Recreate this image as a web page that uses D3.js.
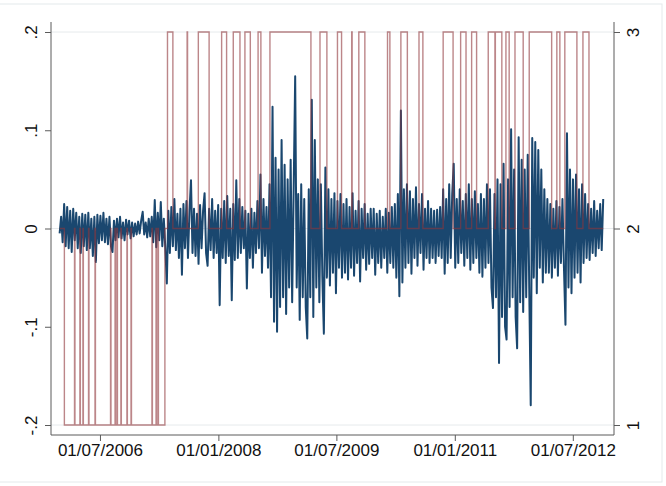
<!DOCTYPE html>
<html lang="en">
<head>
    <meta charset="UTF-8">
    <title>Returns and regime states</title>
    <script src="https://d3js.org/d3.v7.min.js" charset="utf-8"></script>
    <style>
        body {
            margin: 0;
            background: #fff;
        }
        text {
            font-family: "Liberation Sans", Arial, sans-serif;
        }
    </style>
</head>
<body>
    <script>
        var width = 666;
        var height = 486;

        // weekly returns, first week starting 26/12/2005
        var seriesStart = "2005-12-26";
        var seriesEnd = "2012-11-19";
        var returns = [
            -.005, .012, -.014, .025, -.018, .022, -.02, .018, -.024, .02, -.012,
            .016, -.02, .012, -.025, .015, -.018, .014, -.022, .016, -.02, .01, -.028, .012, -.034, .014,
            -.015, .013, -.012, .016, -.014, .01, -.016, .012,
            -.018, -.024, .008, -.012, .01, -.009, .012, -.01, .006, -.012, .009, -.006, .008, -.01, .006,
            -.008, .005, -.006, .007, -.005, .008, .017, -.006, .006, -.009, .01, -.008, .012,
            -.014, .029, -.019, .016, -.012, .027, -.018, .01,
            -.02, -.056, .018, -.025, .022, -.018, .03, -.022, .015, -.03,
            .02, -.047, .025, -.02, .028, -.03, .018, .049, -.025, .02,
            -.028, .015, -.036, .024, -.02, .018, .036, -.025, -.038, .02,
            -.022, .03, -.03, .018, -.025, .024, -.078, .02, -.03, .028,
            -.035, .033, -.028, .02, -.073, .025, -.032, .049, -.03, .03,
            -.025, .022, -.02,
            .018, -.061, .015, -.03, .02, -.04, .016, -.025, .028, -.02, .055, -.045, .03, -.028, .022,
            -.04, .045, -.07, .124, -.095, .072, -.105,
            .06, -.08, .09, -.07, .065, -.087, .05, -.06, .07, -.075, .04, .155,
            -.06, .035, -.093, .045, -.07, .03, -.08, -.112,
            .04, -.07, .131, -.09, .09, -.06, .05, -.075, .045, -.05, -.107,
            .062, -.05, .04, -.058, .03, -.045, .036, -.066, .028, -.04, .035, -.05, .025,
            -.045, .03, -.052, .022, -.04, .036, -.048, .018, -.035, .028, -.054, .02, -.03, .025, -.042, .015, -.036, .02,
            -.03, .02, -.047, .015, -.035, .018, -.04, .012, -.03, .02, -.045, .016, -.035, .022, -.04, .025,
            -.05, .035, -.069, .12, -.055, .04,
            -.04, .045, -.035, .038, -.046, .03, -.03, .042, -.038, .025, -.025, .035, -.042, .02, -.03, .028, -.035, .02, -.03, .018,
            -.035, .019, -.028, .022, -.03,
            .04, -.046, .03, -.035, .045, -.03, .035, .066, -.04, .03, -.035, .04, -.025, .028, -.038, .035,
            -.03, .045, -.042, .03, -.035, .038, -.03, .025, -.045, .035, -.049, .03, -.04, .045, -.035,
            .04, -.06, -.081, .035, -.07, .05,
            -.137, .045, -.09, .066, -.1, -.113, .05, -.08, .101, -.07,
            .06, -.09, -.122, .093, -.075, .07, -.085, .06, -.07, .075,
            -.06, -.18, .092,
            -.05, .088, -.066, .08, -.04, .06, -.055, .04, -.045,
            .03, -.045, .025, -.05, .02, -.04, .028, -.048, .022, -.035, .03,
            -.04, -.098, .097,
            -.06, .06, -.066, .05, -.05, .055, -.045, .04, -.055, .045, -.035, .035,
            -.03, .025, -.032, .02, -.025, .028, -.028, .018, -.02, .025, -.022, .03
        ];

        // regime state (right axis), each entry is the date a new state starts
        var regimeDates = [
            "2005-12-26", "2006-01-17",
            "2006-03-05", "2006-03-07", "2006-03-30", "2006-04-01", "2006-04-13", "2006-04-15",
            "2006-05-09", "2006-05-11", "2006-06-08", "2006-06-10", "2006-08-19", "2006-08-21",
            "2006-09-09", "2006-09-11", "2006-09-18", "2006-09-20", "2006-10-06", "2006-10-08",
            "2006-11-03", "2006-11-05", "2006-11-22", "2006-11-24", "2007-02-27", "2007-03-01",
            "2007-03-18", "2007-03-20", "2007-03-27", "2007-03-29",
            "2007-04-28", "2007-05-10", "2007-06-04",
            "2007-08-09", "2007-08-11", "2007-09-30", "2007-11-19",
            "2008-01-16", "2008-02-08", "2008-03-10", "2008-04-10",
            "2008-05-03", "2008-05-28", "2008-07-03", "2008-07-16",
            "2008-08-27", "2009-03-05", "2009-04-16", "2009-05-18",
            "2009-07-06", "2009-07-25", "2009-09-10", "2009-09-12",
            "2009-10-13", "2009-11-10", "2010-02-23", "2010-03-06",
            "2010-04-26", "2010-05-26", "2010-07-19", "2010-08-06",
            "2010-11-08", "2010-12-24", "2011-01-28", "2011-02-22",
            "2011-03-20", "2011-04-12", "2011-06-05", "2011-07-06", "2011-07-08", "2011-08-07",
            "2011-08-26", "2011-09-10", "2011-10-07", "2011-11-14",
            "2011-12-12", "2012-03-25", "2012-04-18", "2012-05-02",
            "2012-05-25", "2012-07-20", "2012-08-17", "2012-09-14"
        ];
        var regimeStates = [
            2, 1,
            2, 1, 2, 1, 2, 1,
            2, 1, 2, 1, 2, 1,
            2, 1, 2, 1, 2, 1,
            2, 1, 2, 1, 2, 1,
            2, 1, 2, 1,
            2, 3, 2,
            3, 2, 3, 2,
            3, 2, 3, 2,
            3, 2, 3, 2,
            3, 2, 3, 2,
            3, 2, 3, 2,
            3, 2, 3, 2,
            3, 2, 3, 2,
            3, 2, 3, 2,
            3, 2, 3, 2, 3, 2,
            3, 2, 3, 2,
            3, 2, 3, 2,
            3, 2, 3, 2
        ];

        var yTicks = [-.2, -.1, 0, .1, .2];
        var yTickLabels = ["-.2", "-.1", "0", ".1", ".2"];
        var y2Ticks = [1, 2, 3];
        var xTicks = ["2006-07-01", "2008-01-01", "2009-07-01", "2011-01-01", "2012-07-01"];
        var xDomain = ["2005-11-16", "2013-01-08"];

        var plotLeft = 51, plotRight = 614, plotTop = 22, plotBottom = 435;
        var axisColor = "#5b5b5b";
        var labelSize = 17;
        var parse = d3.timeParse("%Y-%m-%d");

        var returnData = returns.map(function(v, i) {
            return { date: d3.timeDay.offset(parse(seriesStart), 7 * i), value: v };
        });
        var regimeData = regimeDates.map(function(d, i) {
            return { date: parse(d), state: regimeStates[i] };
        });
        regimeData.push({ date: parse(seriesEnd), state: regimeStates[regimeStates.length - 1] });

        var svg = d3.select("body")
            .append("svg")
            .attr("width", width)
            .attr("height", height);

        // faint graph region outline
        svg.append("rect")
            .attr("x", -2).attr("y", 4)
            .attr("width", 664).attr("height", 478)
            .attr("fill", "none")
            .attr("stroke", "#e4e9eb");

        var x = d3.scaleTime()
            .domain(xDomain.map(parse))
            .range([plotLeft, plotRight]);
        var y = d3.scaleLinear()
            .domain([-.2, .2])
            .range([plotBottom - 10, plotTop + 10]);
        var y2 = d3.scaleLinear()
            .domain([1, 3])
            .range([plotBottom - 10, plotTop + 10]);

        svg.append("g")
            .selectAll("line")
            .data(y2Ticks)
            .join("line")
            .attr("x1", plotLeft)
            .attr("x2", plotRight)
            .attr("y1", function(d) { return y2(d); })
            .attr("y2", function(d) { return y2(d); })
            .attr("stroke", "#e6eaec");

        var returnLine = d3.line()
            .x(function(d) { return x(d.date); })
            .y(function(d) { return y(d.value); });

        svg.append("path")
            .datum(returnData)
            .attr("fill", "none")
            .attr("stroke", "#1a476f")
            .attr("stroke-width", 2)
            .attr("stroke-linejoin", "round")
            .attr("d", returnLine);

        var regimeLine = d3.line()
            .curve(d3.curveStepAfter)
            .x(function(d) { return x(d.date); })
            .y(function(d) { return y2(d.state); });

        svg.append("path")
            .datum(regimeData)
            .attr("fill", "none")
            .attr("stroke", "#90353b")
            .attr("stroke-opacity", 0.6)
            .attr("stroke-width", 1.4)
            .attr("d", regimeLine);

        // left axis
        var gy = svg.append("g")
            .attr("transform", "translate(" + plotLeft + ",0)")
            .call(d3.axisLeft(y).tickValues(yTicks)
                .tickFormat(function(d, i) { return yTickLabels[i]; })
                .tickSize(6));
        gy.select(".domain").remove();
        gy.append("line").attr("y1", plotTop).attr("y2", plotBottom).attr("stroke", axisColor);
        gy.selectAll(".tick line").attr("stroke", axisColor);
        gy.selectAll(".tick text")
            .attr("transform", "rotate(-90)")
            .attr("x", 0).attr("y", -14).attr("dy", 0)
            .attr("text-anchor", "middle")
            .attr("font-size", labelSize)
            .attr("fill", "#111");

        // right axis
        var gy2 = svg.append("g")
            .attr("transform", "translate(" + plotRight + ",0)")
            .call(d3.axisRight(y2).tickValues(y2Ticks).tickFormat(d3.format("d")).tickSize(6));
        gy2.select(".domain").remove();
        gy2.append("line").attr("y1", plotTop).attr("y2", plotBottom).attr("stroke", axisColor);
        gy2.selectAll(".tick line").attr("stroke", axisColor);
        gy2.selectAll(".tick text")
            .attr("transform", "rotate(-90)")
            .attr("x", 0).attr("y", 25).attr("dy", 0)
            .attr("text-anchor", "middle")
            .attr("font-size", labelSize)
            .attr("fill", "#111");

        // bottom axis
        var gx = svg.append("g")
            .attr("transform", "translate(0," + plotBottom + ")")
            .call(d3.axisBottom(x).tickValues(xTicks.map(parse))
                .tickFormat(d3.timeFormat("%d/%m/%Y"))
                .tickSize(6));
        gx.select(".domain").remove();
        gx.append("line").attr("x1", plotLeft).attr("x2", plotRight).attr("stroke", axisColor);
        gx.selectAll(".tick line").attr("stroke", axisColor);
        gx.selectAll(".tick text")
            .attr("font-size", labelSize)
            .attr("fill", "#111");
    </script>
</body>
</html>
